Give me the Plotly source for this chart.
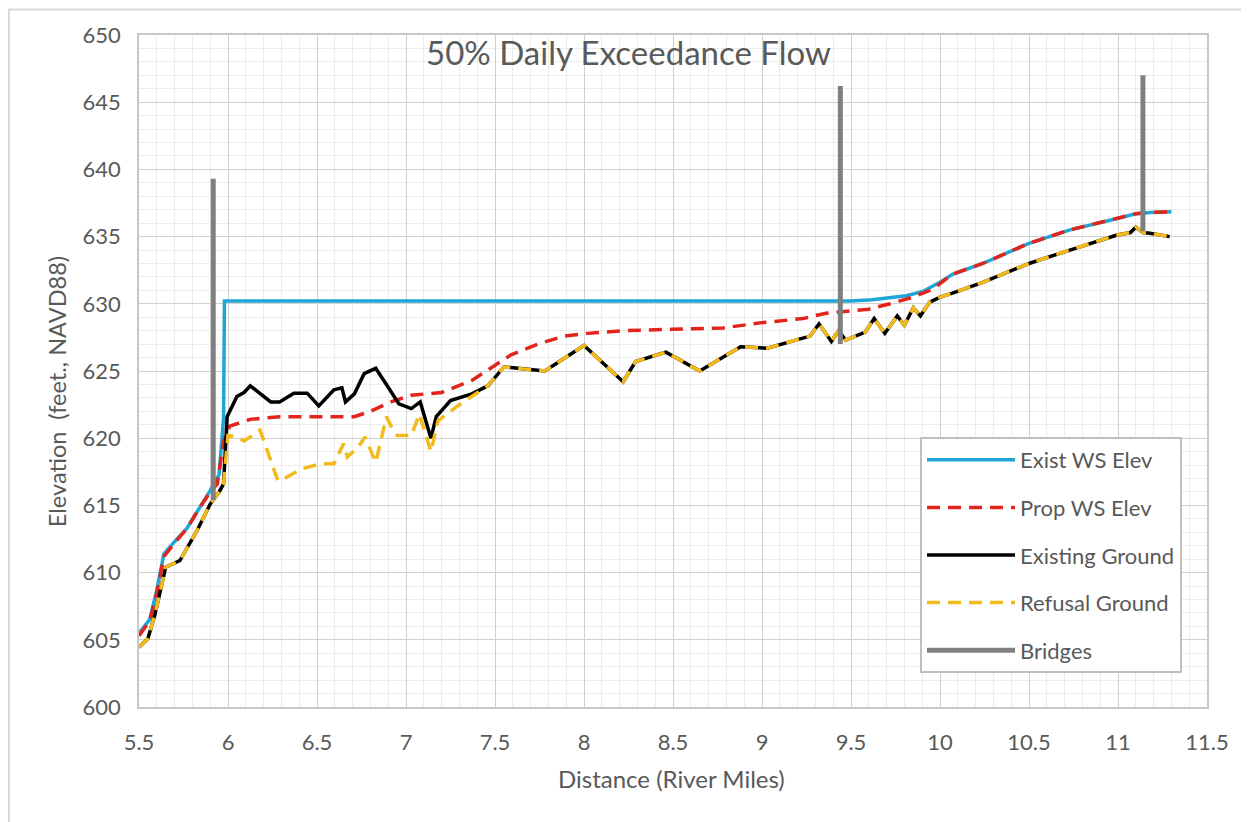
import plotly.graph_objects as go

# --- data ---
ws_exist_x = [5.5, 5.56, 5.6, 5.64, 5.7, 5.77, 5.83, 5.9, 5.95, 5.975, 5.98, 9.5,
              9.62, 9.72, 9.81, 9.9, 9.96, 10.0, 10.07, 10.24, 10.5, 10.73, 10.95, 11.1, 11.18, 11.3]
ws_exist_y = [605.5, 606.5, 608.7, 611.4, 612.3, 613.3, 614.6, 616.1, 617.3, 621.5, 630.2, 630.2,
              630.3, 630.45, 630.6, 630.9, 631.3, 631.6, 632.2, 633.0, 634.5, 635.5, 636.2, 636.7, 636.8, 636.85]

ws_prop_x = [5.5, 5.56, 5.6, 5.64, 5.7, 5.77, 5.83, 5.9, 5.94, 5.975, 6.01, 6.125, 6.29, 6.48, 6.71,
             6.8, 6.915, 7.03, 7.2, 7.37, 7.5, 7.59, 7.74, 7.89, 8.02, 8.23, 8.49, 8.78, 9.0, 9.23,
             9.36, 9.53, 9.6, 9.72, 9.85, 9.96, 10.01, 10.07, 10.24, 10.5, 10.73, 10.95, 11.1, 11.18, 11.3]
ws_prop_y = [605.3, 606.4, 608.5, 611.2, 612.2, 613.3, 614.6, 616.0, 616.6, 619.8, 620.9, 621.4, 621.6, 621.6, 621.6,
             622.0, 622.7, 623.2, 623.4, 624.3, 625.4, 626.2, 627.0, 627.6, 627.8, 628.0, 628.1, 628.2, 628.6, 628.9,
             629.3, 629.5, 629.6, 630.0, 630.5, 631.1, 631.6, 632.2, 633.0, 634.5, 635.5, 636.2, 636.7, 636.8, 636.85]

ground_x = [5.5, 5.55, 5.59, 5.62, 5.65, 5.73, 5.77, 5.825, 5.9, 5.93, 5.95, 5.975, 5.995, 6.05, 6.09,
            6.125, 6.24, 6.29, 6.37, 6.445, 6.51, 6.595, 6.64, 6.66, 6.71, 6.765, 6.83, 6.89, 6.96, 7.03,
            7.08, 7.14, 7.17, 7.25, 7.37, 7.46, 7.55, 7.63, 7.78, 8.0, 8.22, 8.29, 8.46, 8.65, 8.88,
            9.03, 9.27, 9.32, 9.39, 9.43, 9.47, 9.58, 9.63, 9.69, 9.76, 9.8, 9.85, 9.89, 9.94, 10.0,
            10.07, 10.24, 10.5, 10.73, 10.99, 11.07, 11.1, 11.14, 11.18, 11.29]
ground_y = [604.45, 605.1, 606.9, 608.7, 610.4, 610.9, 611.8, 613.1, 615.1, 615.6, 616.0, 616.6, 621.6, 623.1, 623.4,
            623.9, 622.7, 622.7, 623.35, 623.35, 622.4, 623.6, 623.75, 622.7, 623.3, 624.8, 625.2, 624.0, 622.55, 622.2,
            622.7, 620.0, 621.6, 622.8, 623.3, 623.9, 625.3, 625.2, 625.0, 626.9, 624.2, 625.7, 626.4, 625.0, 626.8,
            626.7, 627.6, 628.5, 627.2, 628.0, 627.3, 627.9, 628.9, 627.8, 629.1, 628.4, 629.7, 629.1, 630.1, 630.5,
            630.8, 631.6, 633.0, 634.0, 635.1, 635.3, 635.7, 635.3, 635.25, 635.0]

refusal_x = [5.5, 5.55, 5.59, 5.62, 5.65, 5.73, 5.77, 5.825, 5.9, 5.93, 5.95, 5.975, 6.0, 6.05, 6.09,
             6.125, 6.18, 6.22, 6.28, 6.33, 6.41, 6.52, 6.595, 6.65, 6.67, 6.73, 6.77, 6.83, 6.89, 6.92,
             6.95, 7.03, 7.075, 7.14, 7.18, 7.29, 7.4, 7.46, 7.55, 7.63, 7.78, 8.0, 8.22, 8.29, 8.46,
             8.65, 8.88, 9.03, 9.27, 9.32, 9.39, 9.43, 9.47, 9.58, 9.63, 9.69, 9.76, 9.8, 9.85, 9.89,
             9.94, 10.0, 10.07, 10.24, 10.5, 10.73, 10.99, 11.07, 11.1, 11.14, 11.18, 11.29]
refusal_y = [604.45, 605.1, 606.9, 608.7, 610.4, 610.9, 611.8, 613.1, 615.1, 615.6, 616.0, 616.6, 620.2, 620.1, 619.8,
             620.1, 620.6, 619.1, 616.85, 617.1, 617.7, 618.1, 618.1, 619.6, 618.6, 619.3, 620.1, 618.2, 621.6, 620.8,
             620.2, 620.2, 621.8, 619.0, 621.3, 622.4, 623.4, 623.9, 625.3, 625.2, 625.0, 626.9, 624.2, 625.7, 626.4,
             625.0, 626.8, 626.7, 627.6, 628.5, 627.2, 628.0, 627.3, 627.9, 628.9, 627.8, 629.1, 628.4, 629.7, 629.1,
             630.1, 630.5, 630.8, 631.6, 633.0, 634.0, 635.1, 635.3, 635.7, 635.3, 635.25, 635.0]

bridge_x = [5.917, 5.917, None, 9.44, 9.44, None, 11.14, 11.14]
bridge_y = [615.4, 639.3, None, 627.0, 646.2, None, 635.4, 647.0]

font = "Lato"
txt = "#595959"

fig = go.Figure()
fig.add_trace(go.Scatter(x=ws_exist_x, y=ws_exist_y, mode="lines", name="Exist WS Elev",
                         legendgroup="a", line=dict(color="#1FA6D8", width=3.5)))
fig.add_trace(go.Scatter(x=ws_prop_x, y=ws_prop_y, mode="lines", name="Prop WS Elev",
                         legendgroup="b", line=dict(color="#E3241C", width=3.5, dash="13px,8px")))
fig.add_trace(go.Scatter(x=ground_x, y=ground_y, mode="lines", name="Existing Ground",
                         legendgroup="c", line=dict(color="#000000", width=3.5)))
fig.add_trace(go.Scatter(x=refusal_x, y=refusal_y, mode="lines", name="Refusal Ground",
                         legendgroup="d", line=dict(color="#F2BA1A", width=3.5, dash="13px,8px")))
fig.add_trace(go.Scatter(x=bridge_x, y=bridge_y, mode="lines", name="Bridges",
                         legendgroup="e", line=dict(color="#808080", width=5)))

axis_common = dict(showgrid=True, gridcolor="#d0d0d0", gridwidth=1.3,
                   showline=True, linecolor="#c8c8c8", linewidth=1.5, mirror=True,
                   ticks="", zeroline=False,
                   tickfont=dict(family=font, size=22, color=txt))

# page body adds an 8px offset, so the figure is sized to fit the window
fig.update_layout(
    width=1241, height=814,
    margin=dict(l=131, r=42, t=27, b=115),
    paper_bgcolor="white", plot_bgcolor="white",
    font=dict(family=font, color=txt),
    xaxis=dict(range=[5.5, 11.5], dtick=0.5, tick0=5.5, ticklabelstandoff=15,
               minor=dict(dtick=0.1, showgrid=True, gridcolor="#ececec", gridwidth=1),
               **axis_common),
    yaxis=dict(range=[600, 650], dtick=5, ticklabelstandoff=12,
               minor=dict(dtick=1, showgrid=True, gridcolor="#ececec", gridwidth=1),
               **axis_common),
    legend=dict(x=0.7313, y=0.4018, xanchor="left", yanchor="top",
                bgcolor="white", bordercolor="#bfbfbf", borderwidth=2,
                font=dict(family=font, size=22, color=txt),
                tracegroupgap=16, traceorder="grouped", itemwidth=88),
    annotations=[
        dict(text="50% Daily Exceedance Flow", x=0.4588, y=0.974, xref="paper", yref="paper",
             xanchor="center", yanchor="middle",
             showarrow=False, font=dict(family=font, size=33, color=txt)),
        dict(text="Elevation&nbsp; (feet., NAVD88)", x=-0.0768, y=0.47, xref="paper", yref="paper",
             xanchor="center", yanchor="middle",
             textangle=-90, showarrow=False, font=dict(family=font, size=23.5, color=txt)),
        dict(text="Distance (River Miles)", x=0.499, y=-0.1063, xref="paper", yref="paper",
             xanchor="center", yanchor="middle",
             showarrow=False, font=dict(family=font, size=24, color=txt)),
    ],
    shapes=[dict(type="rect", xref="paper", yref="paper", x0=-0.1217, x1=1.2, y0=-0.3, y1=1.0381,
                 line=dict(color="#d9d9d9", width=2), layer="below")],
)

fig.write_html("out.html")
